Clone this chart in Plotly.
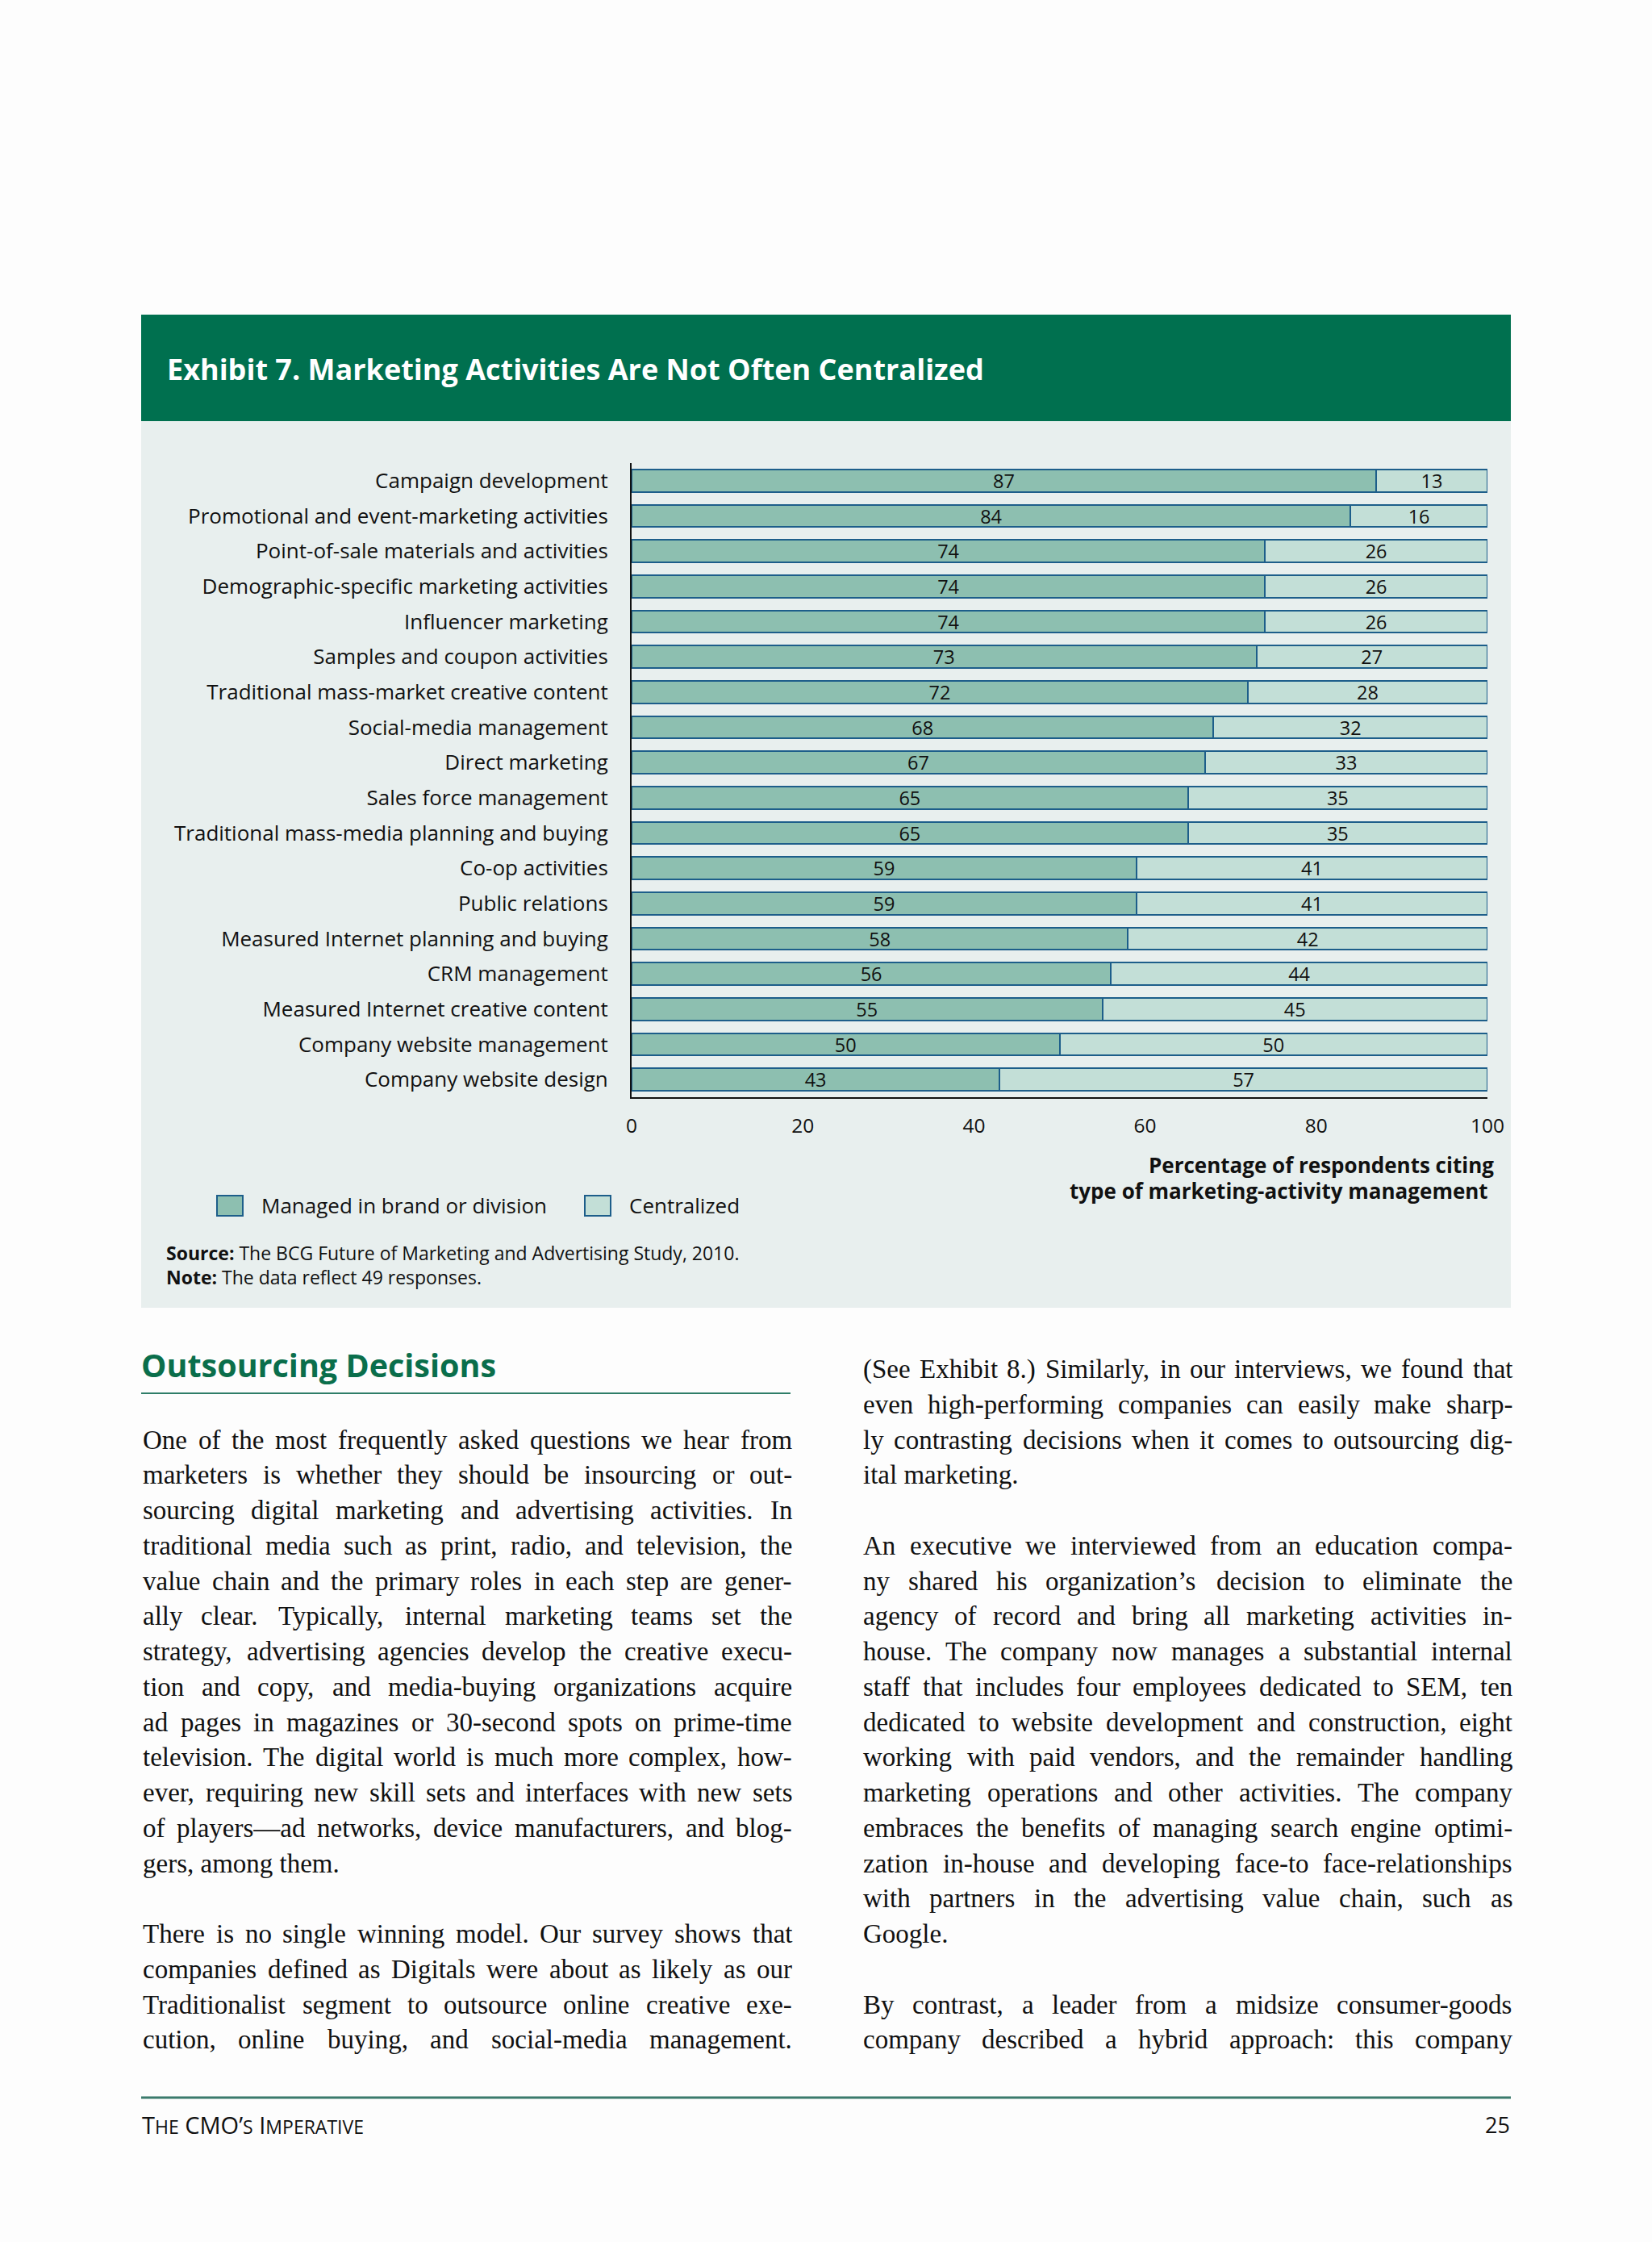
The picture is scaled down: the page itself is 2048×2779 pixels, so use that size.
import glob
import struct
import plotly.graph_objects as go

W, H = 2048, 2779

categories = [
    "Campaign development",
    "Promotional and event-marketing activities",
    "Point-of-sale materials and activities",
    "Demographic-specific marketing activities",
    "Influencer marketing",
    "Samples and coupon activities",
    "Traditional mass-market creative content",
    "Social-media management",
    "Direct marketing",
    "Sales force management",
    "Traditional mass-media planning and buying",
    "Co-op activities",
    "Public relations",
    "Measured Internet planning and buying",
    "CRM management",
    "Measured Internet creative content",
    "Company website management",
    "Company website design",
]
managed = [87, 84, 74, 74, 74, 73, 72, 68, 67, 65, 65, 59, 59, 58, 56, 55, 50, 43]
centralized = [13, 16, 26, 26, 26, 27, 28, 32, 33, 35, 35, 41, 41, 42, 44, 45, 50, 57]
x_ticks = [0, 20, 40, 60, 80, 100]
series_names = ["Managed in brand or division", "Centralized"]

left_col = [
    "One of the most frequently asked questions we hear from",
    "marketers is whether they should be insourcing or out-",
    "sourcing digital marketing and advertising activities. In",
    "traditional media such as print, radio, and television, the",
    "value chain and the primary roles in each step are gener-",
    "ally clear. Typically, internal marketing teams set the",
    "strategy, advertising agencies develop the creative execu-",
    "tion and copy, and media-buying organizations acquire",
    "ad pages in magazines or 30-second spots on prime-time",
    "television. The digital world is much more complex, how-",
    "ever, requiring new skill sets and interfaces with new sets",
    "of players\u2014ad networks, device manufacturers, and blog-",
    "gers, among them.",
    "",
    "There is no single winning model. Our survey shows that",
    "companies defined as Digitals were about as likely as our",
    "Traditionalist segment to outsource online creative exe-",
    "cution, online buying, and social-media management.",
]
right_col = [
    "(See Exhibit 8.) Similarly, in our interviews, we found that",
    "even high-performing companies can easily make sharp-",
    "ly contrasting decisions when it comes to outsourcing dig-",
    "ital marketing.",
    "",
    "An executive we interviewed from an education compa-",
    "ny shared his organization\u2019s decision to eliminate the",
    "agency of record and bring all marketing activities in-",
    "house. The company now manages a substantial internal",
    "staff that includes four employees dedicated to SEM, ten",
    "dedicated to website development and construction, eight",
    "working with paid vendors, and the remainder handling",
    "marketing operations and other activities. The company",
    "embraces the benefits of managing search engine optimi-",
    "zation in-house and developing face-to face-relationships",
    "with partners in the advertising value chain, such as",
    "Google.",
    "",
    "By contrast, a leader from a midsize consumer-goods",
    "company described a hybrid approach: this company",
]

SANS = "Open Sans"
SERIF = "Liberation Serif"
C_MANAGED = "#8DBFB0"
C_CENTRAL = "#C3DFD7"
C_EDGE = "#1D5E8A"
C_GREEN = "#00704F"
C_PANEL = "#E8EFEE"
BODY_SIZE = 33


def make_measurer(pattern, fallback_em=0.45):
    paths = glob.glob(pattern, recursive=True)
    try:
        data = open(paths[0], "rb").read()
        num = struct.unpack(">H", data[4:6])[0]
        tables = {}
        for i in range(num):
            tag, _, off, ln = struct.unpack(">4sIII", data[12 + 16 * i:28 + 16 * i])
            tables[tag.decode("latin1")] = off
        upem = struct.unpack(">H", data[tables["head"] + 18:tables["head"] + 20])[0]
        nhm = struct.unpack(">H", data[tables["hhea"] + 34:tables["hhea"] + 36])[0]
        hm = tables["hmtx"]
        adv = [struct.unpack(">H", data[hm + 4 * i:hm + 4 * i + 2])[0] for i in range(nhm)]
        cm = tables["cmap"]
        n = struct.unpack(">H", data[cm + 2:cm + 4])[0]
        sub = None
        for i in range(n):
            pid, eid, off = struct.unpack(">HHI", data[cm + 4 + 8 * i:cm + 12 + 8 * i])
            fmt = struct.unpack(">H", data[cm + off:cm + off + 2])[0]
            if pid == 3 and eid == 1 and fmt == 4:
                sub = cm + off
        segx2 = struct.unpack(">H", data[sub + 6:sub + 8])[0]
        seg = segx2 // 2
        ends = struct.unpack(">%dH" % seg, data[sub + 14:sub + 14 + segx2])
        starts = struct.unpack(">%dH" % seg, data[sub + 16 + segx2:sub + 16 + 2 * segx2])
        deltas = struct.unpack(">%dh" % seg, data[sub + 16 + 2 * segx2:sub + 16 + 3 * segx2])
        rpos = sub + 16 + 3 * segx2
        roffs = struct.unpack(">%dH" % seg, data[rpos:rpos + segx2])

        def gid(c):
            for i in range(seg):
                if ends[i] >= c:
                    if starts[i] > c:
                        return 0
                    if roffs[i] == 0:
                        return (c + deltas[i]) & 0xFFFF
                    p = rpos + 2 * i + roffs[i] + 2 * (c - starts[i])
                    g = struct.unpack(">H", data[p:p + 2])[0]
                    return (g + deltas[i]) & 0xFFFF if g else 0
            return 0

        def width(s, size):
            return sum(adv[min(gid(ord(ch)), nhm - 1)] for ch in s) * size / upem
        return width
    except Exception:
        return lambda s, size: len(s) * fallback_em * size


measure = make_measurer("/usr/share/fonts/**/LiberationSerif-Regular.ttf")


def px(x):
    return x / W


def py(y):
    return 1 - y / H


fig = go.Figure()
fig.add_trace(go.Bar(
    y=categories, x=managed, name=series_names[0], orientation="h",
    marker=dict(color=C_MANAGED, line=dict(color=C_EDGE, width=2)),
    text=managed, textposition="inside", insidetextanchor="middle",
    textangle=0, constraintext="none",
    textfont=dict(family=SANS, size=23.5, color="#111111"),
))
fig.add_trace(go.Bar(
    y=categories, x=centralized, name=series_names[1], orientation="h",
    marker=dict(color=C_CENTRAL, line=dict(color=C_EDGE, width=2)),
    text=centralized, textposition="inside", insidetextanchor="middle",
    textangle=0, constraintext="none",
    textfont=dict(family=SANS, size=23.5, color="#111111"),
))

shapes = []
shapes.append(dict(type="rect", xref="paper", yref="paper", x0=px(175), x1=px(1873),
                   y0=py(522), y1=py(390), fillcolor=C_GREEN, line=dict(width=0), layer="below"))
shapes.append(dict(type="rect", xref="paper", yref="paper", x0=px(175), x1=px(1873),
                   y0=py(1621), y1=py(522), fillcolor=C_PANEL, line=dict(width=0), layer="below"))
for x0, col in [(269, C_MANAGED), (725, C_CENTRAL)]:
    shapes.append(dict(type="rect", xref="paper", yref="paper", x0=px(x0), x1=px(x0 + 32),
                       y0=py(1507), y1=py(1482), fillcolor=col, line=dict(color=C_EDGE, width=2)))
shapes.append(dict(type="line", xref="paper", yref="paper", x0=px(175), x1=px(980),
                   y0=py(1727), y1=py(1727), line=dict(color="#2E7D68", width=2)))
shapes.append(dict(type="line", xref="paper", yref="paper", x0=px(175), x1=px(1873),
                   y0=py(2600), y1=py(2600), line=dict(color="#3B7A6C", width=3)))

ann = []


def text(x, y, t, size, color="#111111", family=SANS, anchor="left"):
    ann.append(dict(x=px(x), y=py(y), xref="paper", yref="paper", text=t, showarrow=False,
                    xanchor=anchor, yanchor="middle", align=anchor,
                    font=dict(family=family, size=size, color=color)))


text(205, 457, "<b>Exhibit 7. Marketing Activities Are Not Often Centralized</b>", 36, color="#FFFFFF")
text(1854, 1444, "<b>Percentage of respondents citing</b>", 26, anchor="right")
text(1847, 1476, "<b>type of marketing-activity management</b>", 26, anchor="right")
text(322, 1494, series_names[0], 26)
text(778, 1494, series_names[1], 26)
text(204, 1553, "<b>Source:</b> The BCG Future of Marketing and Advertising Study, 2010.", 23)
text(204, 1583, "<b>Note:</b> The data reflect 49 responses.", 23)
text(173, 1692, "<b>Outsourcing Decisions</b>", 39.5, color="#0A6E4B")


def column(lines, x_left, width, first_index):
    base, step = 1697, 43.75
    for i, line in enumerate(lines):
        if not line:
            continue
        y = base + (first_index + i) * step
        nxt = lines[i + 1] if i + 1 < len(lines) else "x"
        words = line.split(" ")
        if nxt == "" or len(words) < 2:
            text(x_left, y, line, BODY_SIZE, family=SERIF)
            continue
        widths = [measure(w, BODY_SIZE) for w in words]
        gap = (width - sum(widths)) / (len(words) - 1)
        if gap < 0.15 * BODY_SIZE or gap > 0.9 * BODY_SIZE:
            text(x_left, y, line, BODY_SIZE, family=SERIF)
            continue
        x = x_left
        for w, wd in zip(words, widths):
            text(x, y, w, BODY_SIZE, family=SERIF)
            x += wd + gap


column(left_col, 175, 805, 2)
column(right_col, 1068, 805, 0)

sm = "<span style='font-size:23px'>"
text(174, 2633, "T" + sm + "HE</span> CMO\u2019" + sm + "S</span> I" + sm + "MPERATIVE</span>", 29)
text(1874, 2633, "25", 27, anchor="right")

fig.update_layout(
    width=W, height=H,
    margin=dict(l=0, r=0, t=0, b=0, pad=0, autoexpand=False),
    paper_bgcolor="#FDFDFD", plot_bgcolor="rgba(0,0,0,0)",
    barmode="stack", bargap=0.36, showlegend=False,
    shapes=shapes, annotations=ann,
    xaxis=dict(domain=[px(783), px(1844)], range=[0, 100], tickvals=x_ticks,
               showgrid=False, zeroline=False, showline=True, linecolor="#111111", linewidth=2,
               ticks="", ticklabelstandoff=13, automargin=False,
               tickfont=dict(family=SANS, size=24.5, color="#111111"), fixedrange=True),
    yaxis=dict(domain=[py(1360), py(574)], autorange="reversed", showgrid=False, zeroline=False,
               showline=True, linecolor="#111111", linewidth=2, ticks="", ticklabelstandoff=22,
               automargin=False,
               tickfont=dict(family=SANS, size=26, color="#111111"), fixedrange=True),
    font=dict(family=SANS),
)

fig.write_html("out.html", config={"displayModeBar": False, "responsive": False},
               post_script="document.body.style.margin='0px';document.body.style.overflow='hidden';")
